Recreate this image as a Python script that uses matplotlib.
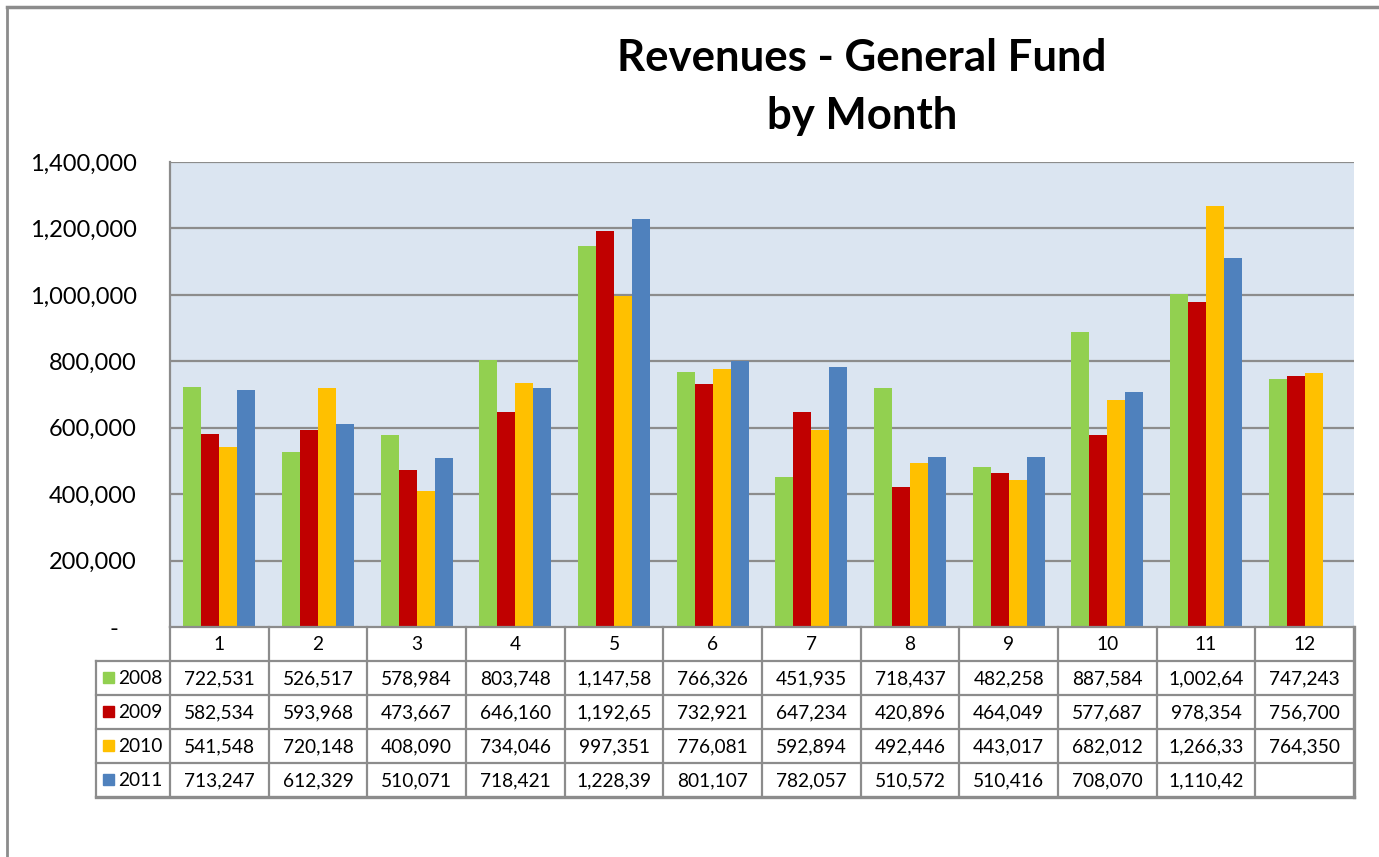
import matplotlib
matplotlib.use("Agg")
import matplotlib.pyplot as plt
import numpy as np
from matplotlib.lines import Line2D
from matplotlib.patches import Rectangle

plt.rcParams['font.family'] = ['Lato', 'DejaVu Sans']

months = [str(m) for m in range(1, 13)]
years = ['2008', '2009', '2010', '2011']
rev_2008 = [722531, 526517, 578984, 803748, 1147580, 766326, 451935, 718437, 482258, 887584, 1002640, 747243]
rev_2009 = [582534, 593968, 473667, 646160, 1192650, 732921, 647234, 420896, 464049, 577687, 978354, 756700]
rev_2010 = [541548, 720148, 408090, 734046, 997351, 776081, 592894, 492446, 443017, 682012, 1266330, 764350]
rev_2011 = [713247, 612329, 510071, 718421, 1228390, 801107, 782057, 510572, 510416, 708070, 1110420, None]
series = [rev_2008, rev_2009, rev_2010, rev_2011]
colors = ['#92D050', '#C00000', '#FFC000', '#4F81BD']

W, H = 1379, 857
fig = plt.figure(figsize=(W / 100, H / 100), dpi=100)

# outer chart frame (only top / left visible)
fig.add_artist(Line2D([7 / W, 7 / W], [0, 1 - 7 / H], color='#8C8C8C', lw=2))
fig.add_artist(Line2D([7 / W, 1], [1 - 7 / H, 1 - 7 / H], color='#8C8C8C', lw=2.5))

# plot area
px0, px1, py_top, py_bot = 170, 1354, 162, 627
ax = fig.add_axes([px0 / W, 1 - py_bot / H, (px1 - px0) / W, (py_bot - py_top) / H])
ax.set_facecolor('#DBE5F1')
x = np.arange(len(months))
bw = 0.182
for i, (vals, c) in enumerate(zip(series, colors)):
    v = np.array([np.nan if a is None else a for a in vals], dtype=float)
    ax.bar(x + (i - 1.5) * bw, v, width=bw, color=c, zorder=3)
ax.set_xlim(-0.5, len(months) - 0.5)
ax.set_ylim(0, 1400000)
ticks = np.arange(0, 1400001, 200000)
ax.set_yticks(ticks)
ax.set_yticklabels(['-   ' if t == 0 else f'{t:,}' for t in ticks], fontsize=17)
ax.tick_params(axis='y', length=0, pad=24)
ax.set_xticks([])
for t in ticks[1:]:
    ax.axhline(t, color='#8C8C8C', lw=1.6, zorder=1)
for s in ['top', 'right', 'bottom']:
    ax.spines[s].set_visible(False)
ax.spines['left'].set_color('#8C8C8C')
ax.spines['left'].set_linewidth(1.6)

# data table
tx0, ty_top, ty_bot = 96, 627, 797
nrow = len(years) + 1
colw = (px1 - px0) / len(months)
left_units = (px0 - tx0) / colw
tax = fig.add_axes([tx0 / W, 1 - ty_bot / H, (px1 - tx0) / W, (ty_bot - ty_top) / H])
tax.set_xlim(-0.5 - left_units, len(months) - 0.5)
tax.set_ylim(nrow, 0)
tax.axis('off')
gc, glw = '#8C8C8C', 1.6
xr = len(months) - 0.5
xl = -0.5 - left_units
# horizontal lines
tax.plot([-0.5, xr], [0, 0], color=gc, lw=glw, clip_on=False)
for r in range(1, nrow + 1):
    tax.plot([xl, xr], [r, r], color=gc, lw=glw + (0.8 if r == nrow else 0), clip_on=False)
# vertical lines
tax.plot([xl, xl], [1, nrow], color=gc, lw=glw, clip_on=False)
for k in range(len(months) + 1):
    tax.plot([k - 0.5, k - 0.5], [0, nrow], color=gc, lw=glw + (0.8 if k == len(months) else 0), clip_on=False)
for j, m in enumerate(months):
    tax.text(j, 0.5, m, ha='center', va='center', fontsize=13.8)
for i, (yr, vals, c) in enumerate(zip(years, series, colors)):
    r = i + 1
    tax.add_patch(Rectangle((xl + 0.07, r + 0.33), 0.11, 0.33, color=c, clip_on=False))
    tax.text(xl + 0.22, r + 0.52, yr, ha='left', va='center', fontsize=13.8)
    for j, v in enumerate(vals):
        if v is None:
            continue
        tax.text(j, r + 0.52, f'{v:,}'[:8], ha='center', va='center', fontsize=13.8)

fig.text(862 / W, 1 - 58 / H, 'Revenues - General Fund', ha='center', va='center',
         fontsize=31.5, fontweight='bold')
fig.text(862 / W, 1 - 116 / H, 'by Month', ha='center', va='center',
         fontsize=31.5, fontweight='bold')

fig.savefig('out.png', dpi=100)
